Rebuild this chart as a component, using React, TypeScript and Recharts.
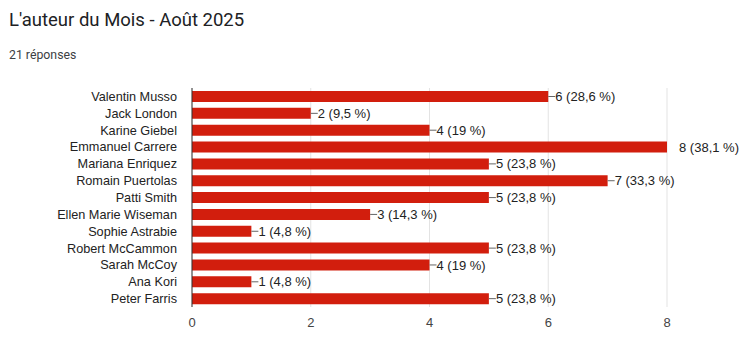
import { BarChart, Bar, XAxis, YAxis, CartesianGrid, LabelList } from "recharts";

const authors = [
  "Valentin Musso",
  "Jack London",
  "Karine Giebel",
  "Emmanuel Carrere",
  "Mariana Enriquez",
  "Romain Puertolas",
  "Patti Smith",
  "Ellen Marie Wiseman",
  "Sophie Astrabie",
  "Robert McCammon",
  "Sarah McCoy",
  "Ana Kori",
  "Peter Farris",
];
const votes = [6, 2, 4, 8, 5, 7, 5, 3, 1, 5, 4, 1, 5];
const percents = ["28,6", "9,5", "19", "38,1", "23,8", "33,3", "23,8", "14,3", "4,8", "23,8", "19", "4,8", "23,8"];
const xTicks = [0, 2, 4, 6, 8];

const data = authors.map((name, i) => ({ name, votes: votes[i], pct: percents[i] }));
const maxVotes = Math.max(...votes);

const font = "'Liberation Sans', Arial, sans-serif";

function BarLabel(props: any) {
  const { x, y, width, height, index } = props;
  const d = data[index];
  const endX = x + width;
  const cy = y + height / 2;
  const isMax = d.votes === maxVotes;
  return (
    <g>
      {!isMax && <line x1={endX} y1={cy} x2={endX + 7} y2={cy} stroke="#666" strokeWidth={1} />}
      <text x={endX + (isMax ? 12 : 7)} y={cy} dy="0.35em" fontSize={13} fill="#222" fontFamily={font}>
        {`${d.votes} (${d.pct} %)`}
      </text>
    </g>
  );
}

export default function App() {
  return (
    <div style={{ position: "absolute", left: 0, top: 0, width: 742, height: 338, background: "#fff" }}>
      <div style={{ position: "absolute", left: 9, top: 9, fontFamily: "Roboto, sans-serif", fontSize: 18.5, color: "#202124" }}>
        L'auteur du Mois - Août 2025
      </div>
      <div style={{ position: "absolute", left: 9, top: 48, fontFamily: "Roboto, sans-serif", fontSize: 12.3, color: "#3c4043" }}>
        21 réponses
      </div>
      <div style={{ position: "absolute", left: 0, top: 0 }}>
        <BarChart
          width={742}
          height={338}
          data={data}
          layout="vertical"
          margin={{ top: 88, right: 75, bottom: 6, left: 0 }}
          barCategoryGap={3}
        >
          <CartesianGrid horizontal={false} vertical stroke="#e3e3e3" />
          <XAxis
            type="number"
            domain={[0, 8]}
            ticks={xTicks}
            axisLine={false}
            tickLine={false}
            height={25}
            tickMargin={5}
            tick={{ fontSize: 13, fill: "#444", fontFamily: font }}
          />
          <YAxis
            type="category"
            dataKey="name"
            width={192}
            axisLine={{ stroke: "#333" }}
            tickLine={false}
            tickMargin={9}
            interval={0}
            tick={{ fontSize: 12.7, fill: "#222", fontFamily: font }}
          />
          <Bar dataKey="votes" fill="#d21e0d" barSize={11} isAnimationActive={false}>
            <LabelList dataKey="votes" content={BarLabel} />
          </Bar>
        </BarChart>
      </div>
    </div>
  );
}
